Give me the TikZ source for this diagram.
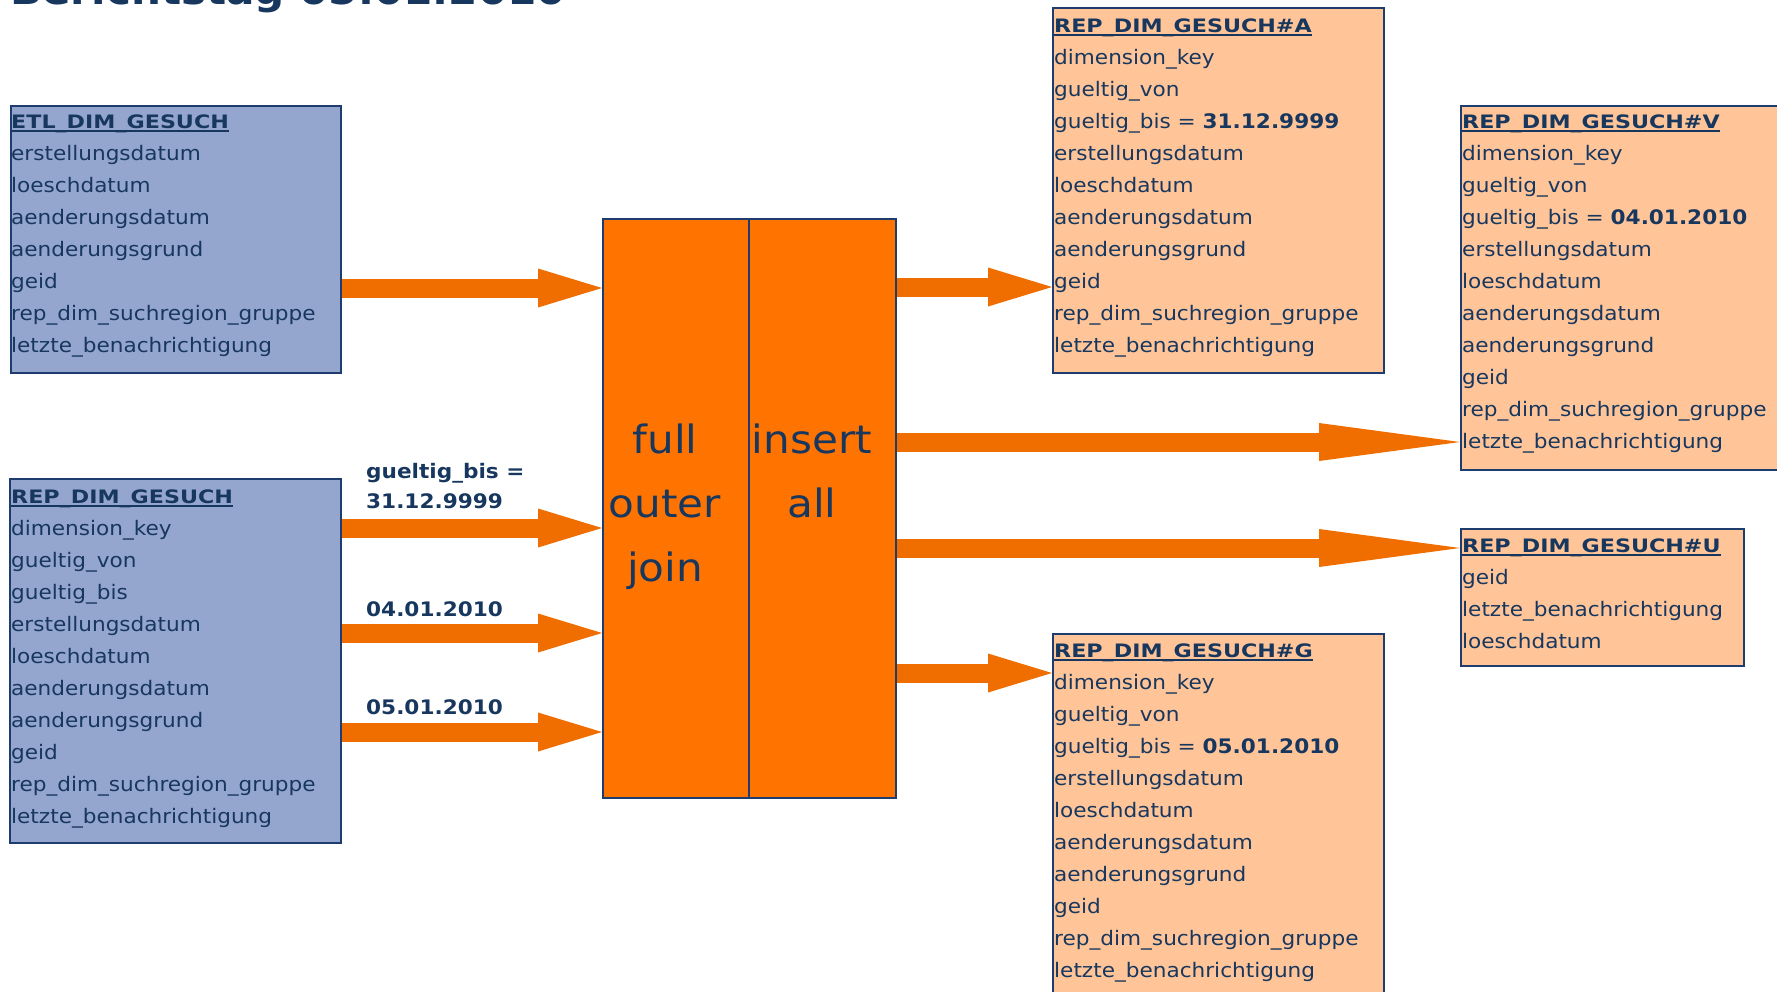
\documentclass[tikz,border=0pt]{standalone}
\usepackage{fontspec}
\setmainfont{DejaVu Sans}[FakeStretch=1.08]
\newfontfamily\headfont{DejaVu Sans}[FakeStretch=1.2]
\usetikzlibrary{arrows.meta}

\definecolor{navy}{RGB}{23,55,94}
\definecolor{edge}{RGB}{30,60,110}
\definecolor{etlblue}{RGB}{149,166,206}
\definecolor{peach}{RGB}{255,197,153}
\definecolor{blockorange}{RGB}{255,116,0}
\definecolor{floworange}{RGB}{240,110,0}

\begin{document}
\begin{tikzpicture}[
      x=1pt, y=-1pt,
      tbl/.style={draw=edge, line width=2pt, anchor=north west, inner sep=0pt},
      row/.style={anchor=base west, inner sep=0pt, text=navy, font=\fontsize{20}{24}\selectfont},
      hdr/.style={row, font=\headfont\bfseries\fontsize{18.5}{22}\selectfont},
      lbl/.style={row, font=\bfseries\fontsize{20}{24}\selectfont},
      big/.style={anchor=base, inner sep=0pt, text=navy, font=\fontsize{39}{44}\selectfont},
      uline/.style={draw=navy, line width=2pt},
      flow/.style={draw=floworange, line width=19pt,
        -{Triangle[length=64pt,width=39pt,line width=0pt]}},
      longflow/.style={flow, -{Triangle[length=141pt,width=38pt,line width=0pt]}},
    ]
    \useasboundingbox (0,0) rectangle (1777,991);
    \clip (0,0) rectangle (1777,991);
    % title, cut off at the top
    \node[anchor=base west, inner sep=0pt, text=navy, font=\bfseries\fontsize{39}{44}\selectfont]
      (title) at (10,4) {Berichtstag 05.01.2010};

    % source tables
    \node[tbl, fill=etlblue, minimum width=330pt, minimum height=267pt] (etl) at (10,105) {};
    \node[hdr] (etl-h) at (11,128) {ETL\_DIM\_GESUCH};
    \foreach \t [count=\i] in {erstellungsdatum, loeschdatum, aenderungsdatum,
        aenderungsgrund, geid, rep\_dim\_suchregion\_gruppe, letzte\_benachrichtigung}
      \node[row] (etl-\i) at (11,128+32*\i) {\t};

    \node[tbl, fill=etlblue, minimum width=331pt, minimum height=364pt] (rep) at (9,478) {};
    \node[hdr] (rep-h) at (11,503) {REP\_DIM\_GESUCH};
    \foreach \t [count=\i] in {dimension\_key, gueltig\_von, gueltig\_bis, erstellungsdatum,
        loeschdatum, aenderungsdatum, aenderungsgrund, geid,
        rep\_dim\_suchregion\_gruppe, letzte\_benachrichtigung}
      \node[row] (rep-\i) at (11,503+32*\i) {\t};

    % join / insert block
    \node[tbl, fill=blockorange, minimum width=146pt, minimum height=579pt] (join) at (602,218) {};
    \node[tbl, fill=blockorange, minimum width=147pt, minimum height=579pt] (ins) at (748,218) {};
    \foreach \w [count=\i] in {full, outer, join}
      \node[big] (join-\i) at (665,389+64*\i) {\w};
    \foreach \w [count=\i] in {insert, all}
      \node[big] (ins-\i) at (812,389+64*\i) {\w};

    % target tables
    \node[tbl, fill=peach, minimum width=331pt, minimum height=365pt] (tblA) at (1052,7) {};
    \node[hdr] (tblA-h) at (1054,32) {REP\_DIM\_GESUCH\#A};
    \foreach \t [count=\i] in {dimension\_key, gueltig\_von, {gueltig\_bis = \textbf{31.12.9999}},
        erstellungsdatum, loeschdatum, aenderungsdatum, aenderungsgrund, geid,
        rep\_dim\_suchregion\_gruppe, letzte\_benachrichtigung}
      \node[row] (tblA-\i) at (1054,32+32*\i) {\t};

    \node[tbl, fill=peach, minimum width=400pt, minimum height=364pt] (tblV) at (1460,105) {};
    \node[hdr] (tblV-h) at (1462,128) {REP\_DIM\_GESUCH\#V};
    \foreach \t [count=\i] in {dimension\_key, gueltig\_von, {gueltig\_bis = \textbf{04.01.2010}},
        erstellungsdatum, loeschdatum, aenderungsdatum, aenderungsgrund, geid,
        rep\_dim\_suchregion\_gruppe, letzte\_benachrichtigung}
      \node[row] (tblV-\i) at (1462,128+32*\i) {\t};

    \node[tbl, fill=peach, minimum width=283pt, minimum height=137pt] (tblU) at (1460,528) {};
    \node[hdr] (tblU-h) at (1462,552) {REP\_DIM\_GESUCH\#U};
    \foreach \t [count=\i] in {geid, letzte\_benachrichtigung, loeschdatum}
      \node[row] (tblU-\i) at (1462,552+32*\i) {\t};

    \node[tbl, fill=peach, minimum width=331pt, minimum height=400pt] (tblG) at (1052,633) {};
    \node[hdr] (tblG-h) at (1054,657) {REP\_DIM\_GESUCH\#G};
    \foreach \t [count=\i] in {dimension\_key, gueltig\_von, {gueltig\_bis = \textbf{05.01.2010}},
        erstellungsdatum, loeschdatum, aenderungsdatum, aenderungsgrund, geid,
        rep\_dim\_suchregion\_gruppe, letzte\_benachrichtigung}
      \node[row] (tblG-\i) at (1054,657+32*\i) {\t};

    \foreach \n in {etl, rep, tblA, tblV, tblU, tblG}
      \draw[uline] ([yshift=-3pt]\n-h.base west) -- ([yshift=-3pt]\n-h.base east);

    % labels on the inputs
    \node[lbl] (bis-1) at (366,478) {gueltig\_bis =};
    \node[lbl] (bis-2) at (366,508) {31.12.9999};
    \node[lbl] (bis-3) at (366,616) {04.01.2010};
    \node[lbl] (bis-4) at (366,714) {05.01.2010};

    % flows
    \draw[flow] (etl.east |- 0,288) -- (join.west |- 0,288);
    \draw[flow] (rep.east |- 0,528) -- (join.west |- 0,528);
    \draw[flow] (rep.east |- 0,633) -- (join.west |- 0,633);
    \draw[flow] (rep.east |- 0,732) -- (join.west |- 0,732);
    \draw[flow] (ins.east |- 0,287) -- (tblA.west |- 0,287);
    \draw[longflow] (ins.east |- 0,442) -- (tblV.west |- 0,442);
    \draw[longflow] (ins.east |- 0,548) -- (tblU.west |- 0,548);
    \draw[flow] (ins.east |- 0,673) -- (tblG.west |- 0,673);
  \end{tikzpicture}
\end{document}
